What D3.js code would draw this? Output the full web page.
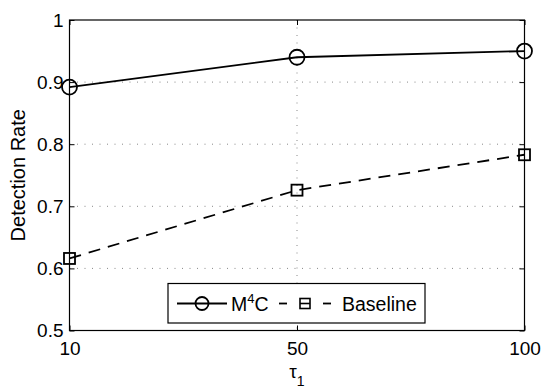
<!DOCTYPE html>
<html>
<head>
<meta charset="utf-8">
<script src="https://cdn.jsdelivr.net/npm/d3@7"></script>
<style>
  body { margin: 0; background: #fff; }
  svg { font-family: "Liberation Sans", Arial, sans-serif; }
</style>
</head>
<body>
<svg id="chart"></svg>
<script>
const categories = ["10", "50", "100"];
const m4c = [0.892, 0.940, 0.950];
const baseline = [0.616, 0.726, 0.783];
const yTicks = [0.5, 0.6, 0.7, 0.8, 0.9, 1];

const width = 548, height = 392;
const margin = {top: 20, right: 23.5, bottom: 61.5, left: 69.5};
const w = width - margin.left - margin.right;
const h = height - margin.top - margin.bottom;
const fs = 19;

const svg = d3.select("#chart")
    .attr("width", width)
    .attr("height", height);

const g = svg.append("g")
    .attr("transform", `translate(${margin.left},${margin.top})`);

const x = d3.scalePoint()
    .domain(categories)
    .range([0, w]);

const y = d3.scaleLinear()
    .domain([0.5, 1])
    .range([h, 0]);

// dotted grid
g.selectAll(".hgrid")
    .data(yTicks.filter(d => d > 0.5 && d < 1))
    .join("line")
    .attr("x1", 0).attr("x2", w)
    .attr("y1", d => y(d)).attr("y2", d => y(d))
    .attr("stroke", "#888").attr("stroke-width", 1)
    .attr("stroke-dasharray", "1,6.5");

g.selectAll(".vgrid")
    .data(categories.slice(1, -1))
    .join("line")
    .attr("x1", d => x(d)).attr("x2", d => x(d))
    .attr("y1", 0).attr("y2", h)
    .attr("stroke", "#888").attr("stroke-width", 1)
    .attr("stroke-dasharray", "1,6.5");

// axes, ticks inside, mirrored on top/right
const tickLen = 5;
g.append("g")
    .attr("transform", `translate(0,${h})`)
    .call(d3.axisBottom(x).tickSizeInner(-tickLen).tickSizeOuter(0).tickPadding(11))
    .call(a => a.select(".domain").remove());
g.append("g")
    .call(d3.axisTop(x).tickSizeInner(-tickLen).tickSizeOuter(0).tickFormat(""))
    .call(a => a.select(".domain").remove());
g.append("g")
    .call(d3.axisLeft(y).tickValues(yTicks).tickFormat(d3.format("")).tickSizeInner(-tickLen).tickSizeOuter(0).tickPadding(6))
    .call(a => a.select(".domain").remove());
g.append("g")
    .attr("transform", `translate(${w},0)`)
    .call(d3.axisRight(y).tickValues(yTicks).tickSizeInner(-tickLen).tickSizeOuter(0).tickFormat(""))
    .call(a => a.select(".domain").remove());

g.selectAll(".tick line").attr("stroke", "#000").attr("stroke-width", 1);
g.selectAll(".tick text").attr("font-size", fs).attr("fill", "#000")
    .attr("font-family", "Liberation Sans, Arial, sans-serif");

g.append("rect")
    .attr("width", w).attr("height", h)
    .attr("fill", "none").attr("stroke", "#000").attr("stroke-width", 1.2);

// series
const line = d3.line()
    .x((d, i) => x(categories[i]))
    .y(d => y(d));

g.append("path")
    .datum(m4c)
    .attr("d", line)
    .attr("fill", "none").attr("stroke", "#000").attr("stroke-width", 1.8);

g.append("path")
    .datum(baseline)
    .attr("d", line)
    .attr("fill", "none").attr("stroke", "#000").attr("stroke-width", 1.8)
    .attr("stroke-dasharray", "12,8");

g.selectAll(".m4c-pt")
    .data(m4c)
    .join("circle")
    .attr("cx", (d, i) => x(categories[i]))
    .attr("cy", d => y(d))
    .attr("r", 7.5)
    .attr("fill", "none").attr("stroke", "#000").attr("stroke-width", 1.8);

const sq = 11;
g.selectAll(".base-pt")
    .data(baseline)
    .join("rect")
    .attr("x", (d, i) => x(categories[i]) - sq / 2)
    .attr("y", d => y(d) - sq / 2)
    .attr("width", sq).attr("height", sq)
    .attr("fill", "none").attr("stroke", "#000").attr("stroke-width", 1.8);

// axis labels
svg.append("text")
    .attr("transform", `translate(25,${margin.top + h / 2}) rotate(-90)`)
    .attr("text-anchor", "middle")
    .attr("font-size", 20)
    .text("Detection Rate");

const xl = svg.append("text")
    .attr("x", margin.left + w / 2)
    .attr("y", 378)
    .attr("text-anchor", "middle")
    .attr("font-size", fs);
xl.append("tspan").text("τ");
xl.append("tspan").attr("font-size", 14).attr("dy", 8).text("1");

// legend
const lfs = 19.5;
const lg = svg.append("g").attr("transform", "translate(168,283.5)");
lg.append("rect")
    .attr("width", 257).attr("height", 39.5)
    .attr("fill", "#fff").attr("stroke", "#000").attr("stroke-width", 1.2);

const ly = 20;
lg.append("line").attr("x1", 9).attr("x2", 59).attr("y1", ly).attr("y2", ly)
    .attr("stroke", "#000").attr("stroke-width", 1.8);
lg.append("circle").attr("cx", 34).attr("cy", ly).attr("r", 6.5)
    .attr("fill", "none").attr("stroke", "#000").attr("stroke-width", 1.8);
const t1 = lg.append("text").attr("x", 63).attr("y", ly + 7).attr("font-size", lfs);
t1.append("tspan").text("M");
t1.append("tspan").attr("font-size", 13).attr("dy", -8).text("4");
t1.append("tspan").attr("dy", 8).text("C");

lg.append("line").attr("x1", 111).attr("x2", 119).attr("y1", ly).attr("y2", ly)
    .attr("stroke", "#000").attr("stroke-width", 1.8);
lg.append("rect").attr("x", 137 - 5).attr("y", ly - 5).attr("width", 10).attr("height", 10)
    .attr("fill", "none").attr("stroke", "#000").attr("stroke-width", 1.6);
lg.append("line").attr("x1", 132).attr("x2", 142).attr("y1", ly).attr("y2", ly)
    .attr("stroke", "#000").attr("stroke-width", 1.6);
lg.append("line").attr("x1", 155).attr("x2", 163).attr("y1", ly).attr("y2", ly)
    .attr("stroke", "#000").attr("stroke-width", 1.8);
lg.append("text").attr("x", 174).attr("y", ly + 7).attr("font-size", lfs).text("Baseline");
</script>
</body>
</html>
